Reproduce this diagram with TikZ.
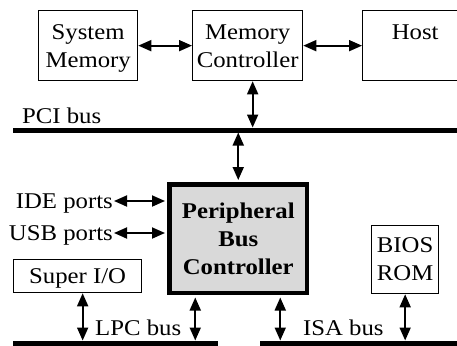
\documentclass[tikz,border=0pt]{standalone}
\usepackage{fontspec}
\setmainfont{Liberation Serif}[FakeStretch=1.1]
\usetikzlibrary{arrows.meta}

\begin{document}
\begin{tikzpicture}[x=1pt, y=-1pt,
    every node/.style={font=\fontsize{22.5}{28}\selectfont},
    blk/.style={draw, line width=1.3pt, align=center, anchor=north west, inner sep=0pt},
    low/.style={text depth=-5pt},
    link/.style={{Triangle[length=13pt,width=11pt]}-{Triangle[length=13pt,width=11pt]}, line width=1.8pt},
    bus/.style={line width=5pt}]
    \useasboundingbox (0,0) rectangle (457,345);
    % top row
    \node[blk, low, minimum width=99pt, minimum height=70pt](sysmem) at (38,10){System\\Memory};
    \node[blk, low, minimum width=110pt, minimum height=70pt](memctl) at (192,10){Memory\\Controller};
    \node[blk, low, minimum width=105pt, minimum height=70pt](host) at (362,10){Host\\\mbox{}};
    \draw[link](sysmem.east)--(memctl.west);
    \draw[link](memctl.east)--(host.west);
    % PCI bus
    \coordinate(pci) at (13,130);
    \draw[bus](pci)--++(444,0);
    \node[anchor=base west, inner sep=0pt](pcilbl) at (22,123){PCI bus};
    \draw[link]([xshift=5pt]memctl.south)--([xshift=5pt]memctl.south |- pci)[shorten >=2.5pt];
    % peripheral bus controller
    \node[blk, fill=black!15, line width=4.5pt, font=\fontsize{22.5}{28}\selectfont\bfseries, minimum width=137.5pt, minimum height=108.5pt](pbc) at (167.25,182.25){Peripheral\\Bus\\Controller};
    \draw[link, shorten <=2.5pt, shorten >=2.25pt](pbc.north |- pci)--(pbc.north);
    \node[anchor=east, inner sep=1pt, text depth=0pt](ide) at (114,201){IDE ports};
    \node[anchor=east, inner sep=1pt, text depth=0pt](usb) at (114,233){USB ports};
    \draw[link, shorten >=2.25pt](ide.east)--(ide.east -| pbc.west);
    \draw[link, shorten >=2.25pt](usb.east)--(usb.east -| pbc.west);
    % LPC and ISA buses
    \node[blk, low, minimum width=128pt, minimum height=33pt](superio) at (13,259){Super I/O};
    \node[blk, minimum width=67pt, minimum height=68pt](bios) at (371,225){BIOS\\ROM};
    \coordinate(lpc) at (13,343);
    \coordinate(isa) at (260,343);
    \draw[bus](lpc)--++(205,0);
    \draw[bus](isa)--++(197,0);
    \node[anchor=base west, inner sep=0pt](lpclbl) at (95,335){LPC bus};
    \node[anchor=base west, inner sep=0pt](isalbl) at (303,335){ISA bus};
    \draw[link, shorten >=2.5pt]([xshift=5pt]superio.south)--([xshift=5pt]superio.south |- lpc);
    \draw[link, shorten <=2.25pt, shorten >=2.5pt]([xshift=-43pt]pbc.south)--([xshift=-43pt]pbc.south |- lpc);
    \draw[link, shorten <=2.25pt, shorten >=2.5pt]([xshift=42pt]pbc.south)--([xshift=42pt]pbc.south |- isa);
    \draw[link, shorten >=2.5pt](bios.south)--(bios.south |- isa);
\end{tikzpicture}
\end{document}
